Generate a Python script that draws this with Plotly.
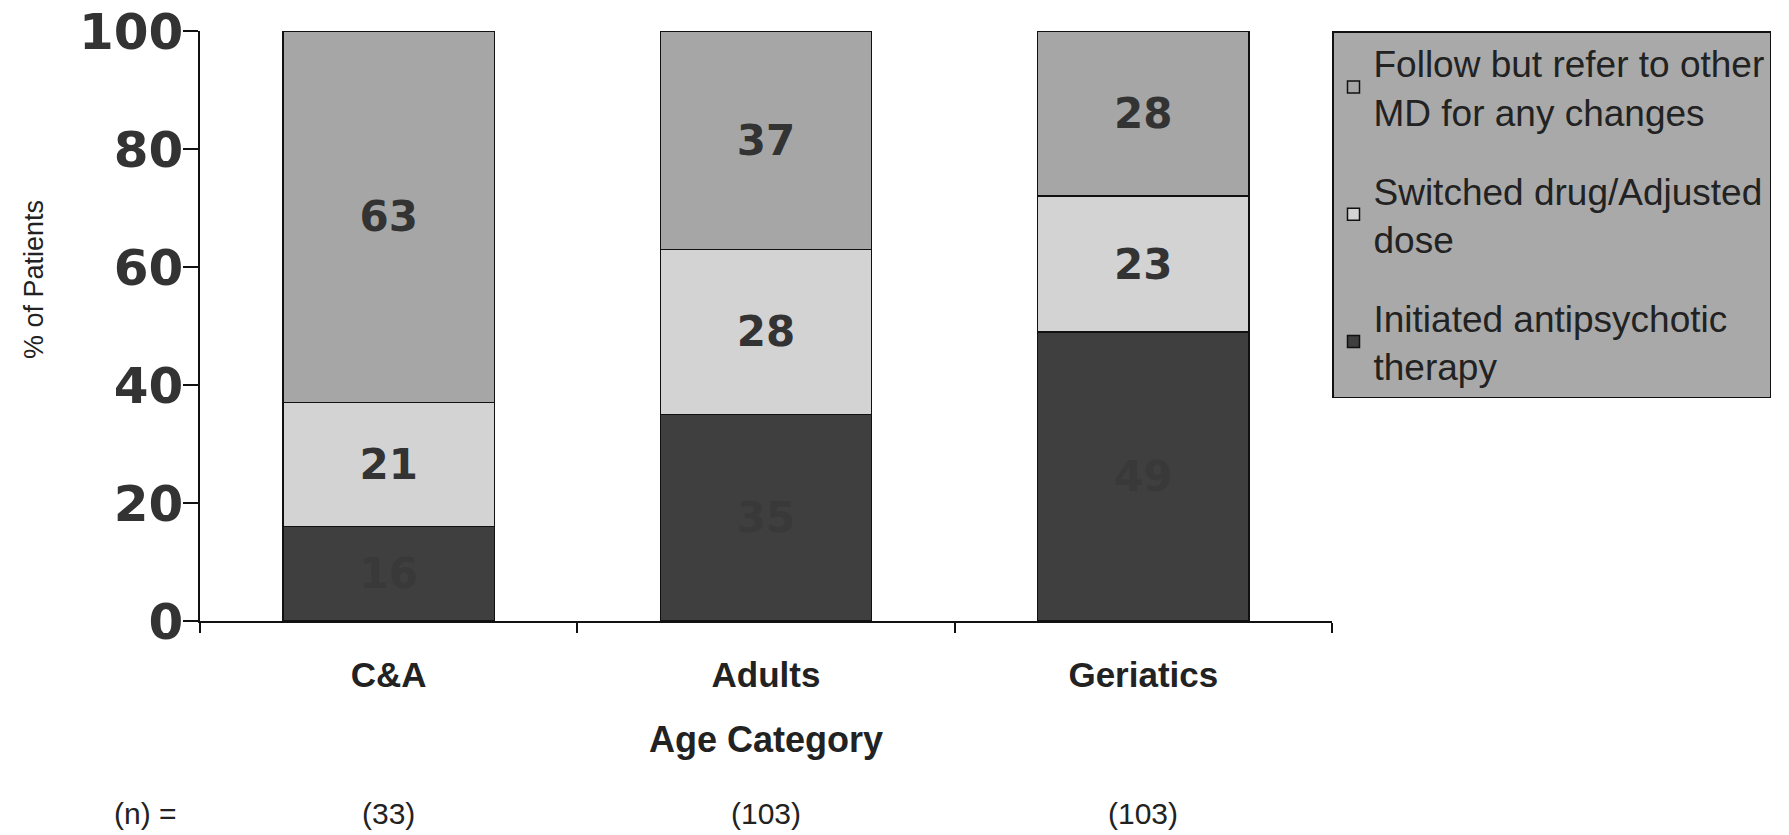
import plotly.graph_objects as go

# Age categories and sample sizes
categories = ["C&A", "Adults", "Geriatics"]
n_labels = ["(33)", "(103)", "(103)"]

# Percent of patients per management approach (stacked bottom to top)
initiated = [16, 35, 49]
switched = [21, 28, 23]
follow = [63, 37, 28]

series_names = [
    "Initiated antipsychotic<br>therapy",
    "Switched drug/Adjusted<br>dose",
    "Follow but refer to other<br>MD for any changes",
]
series_values = [initiated, switched, follow]
series_colors = ["#3f3f3f", "#d3d3d3", "#a6a6a6"]
label_colors = ["#393939", "#333333", "#333333"]

W, H = 1789, 835
M_L, M_R, M_T, M_B = 200, 457, 31, 214
PLOT_W, PLOT_H = W - M_L - M_R, H - M_T - M_B

fig = go.Figure()
n_series = len(series_names)
for i, (name, vals, col, tcol) in enumerate(zip(series_names, series_values, series_colors, label_colors)):
    fig.add_trace(go.Bar(
        x=categories, y=vals, name=name,
        legendgroup="g%d" % i, legendrank=n_series - i,
        marker=dict(color=col, line=dict(color="#111111", width=1.5)),
        text=[str(v) for v in vals], textposition="inside",
        insidetextanchor="middle", constraintext="none",
        textfont=dict(family="DejaVu Sans", size=42, color=tcol, weight="bold"),
        textangle=0,
        width=0.56,
    ))

fig.update_layout(
    barmode="stack",
    width=W, height=H,
    margin=dict(l=M_L, r=M_R, t=M_T, b=M_B, autoexpand=False),
    paper_bgcolor="white", plot_bgcolor="white",
    showlegend=True,
    legend=dict(
        traceorder="grouped",
        x=1.0, xanchor="left", y=1.0, yanchor="top",
        bgcolor="#a9a9a9", bordercolor="#111111", borderwidth=1.5,
        font=dict(family="Liberation Sans, Arial", size=37, color="#222222"),
        tracegroupgap=28,
    ),
    font=dict(family="Liberation Sans, Arial", color="#222222"),
)

fig.update_yaxes(
    range=[0, 100], tickvals=[0, 20, 40, 60, 80, 100],
    showgrid=False, zeroline=False, automargin=False,
    showline=True, linecolor="#111111", linewidth=1.5,
    ticks="outside", ticklen=15, tickcolor="#111111", tickwidth=1.5,
    tickfont=dict(family="DejaVu Sans", size=50, color="#333333", weight="bold"),
    ticklabelstandoff=-10,
)
fig.update_xaxes(
    range=[-0.5, 2.5],
    showgrid=False, zeroline=False, automargin=False,
    showline=True, linecolor="#111111", linewidth=1.5,
    ticks="outside", tickson="boundaries", ticklen=10, tickcolor="#111111", tickwidth=1.5,
    tickfont=dict(family="Liberation Sans, Arial", size=35, color="#222222", weight="bold"),
    ticklabelstandoff=22,
    title=dict(text="Age Category",
               font=dict(family="Liberation Sans, Arial", size=36, color="#222222", weight="bold"),
               standoff=34),
)

# Vertical axis caption
fig.add_annotation(
    x=(34 - M_L) / PLOT_W, y=(H - M_B - 280) / PLOT_H, xref="paper", yref="paper",
    text="% of Patients", textangle=-90, showarrow=False,
    xanchor="center", yanchor="middle",
    font=dict(family="Liberation Sans, Arial", size=27, color="#222222"),
)

# Sample size row beneath the axis
n_font = dict(family="Liberation Sans, Arial", size=30, color="#222222")
n_row_y = (H - M_B - 813) / PLOT_H
fig.add_annotation(
    x=(145 - M_L) / PLOT_W, y=n_row_y, xref="paper", yref="paper", text="(n) =",
    showarrow=False, xanchor="center", yanchor="middle", font=n_font,
)
for cat, lab in zip(categories, n_labels):
    fig.add_annotation(
        x=cat, y=n_row_y, xref="x", yref="paper", text=lab, showarrow=False,
        xanchor="center", yanchor="middle", font=n_font,
    )

fig.write_html("out.html")
